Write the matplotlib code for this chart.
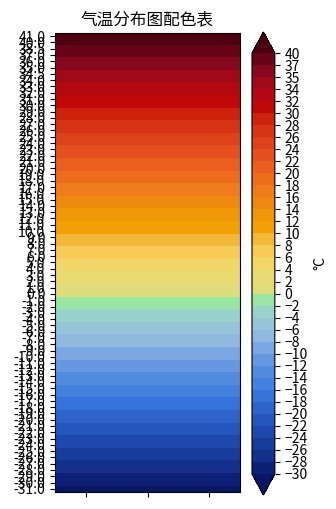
import numpy as np
import matplotlib
matplotlib.use('Agg')
import matplotlib.pyplot as plt
from matplotlib.colors import ListedColormap, BoundaryNorm

plt.rcParams['font.family'] = ['Noto Sans CJK SC', 'DejaVu Sans']
plt.rcParams['axes.unicode_minus'] = True

# 色阶分界
levels = list(range(-30, 33, 2)) + [34, 35, 37, 40]

# 每个区间颜色 (由低到高)
colors = [
    '#0c2078', '#12308c', '#183c9c', '#1e48ac', '#2456bc', '#2c64cc',
    '#3474da', '#4282de', '#528cde', '#6598e0', '#7aa6e2', '#90b8e0',
    '#96c4d8', '#98d2ca', '#98e6a4', '#e0dc7a', '#eada72', '#f2d668',
    '#f7cc56', '#f4b838', '#f2a004', '#f09808', '#ee8a10', '#ee7c18',
    '#ec6c1c', '#ea5e20', '#e6501e', '#de4218', '#d63414', '#cc220e',
    '#c00808', '#b40810', '#a00a18', '#86081c', '#680418',
]
under_color = '#081666'
over_color = '#4c0010'

# 展示用数值 (由上到下)
mids = [(levels[i] + levels[i + 1]) / 2 for i in range(len(levels) - 1)]
values = sorted(set([41.0, -31.0] + [float(v) for v in levels] + mids), reverse=True)

cmap = ListedColormap(colors)
cmap.set_under(under_color)
cmap.set_over(over_color)
norm = BoundaryNorm(levels, cmap.N)

data = np.tile(np.array(values)[:, None], (1, 3))

fig = plt.figure(figsize=(3.36, 5.09), dpi=100)
ax = fig.add_axes([0.1637, 0.0334, 0.5506, 0.9018])
ax.imshow(data, cmap=cmap, norm=norm, aspect='auto', interpolation='nearest')
ax.set_yticks(np.arange(len(values)))
ax.set_yticklabels(['%.1f' % v for v in values], fontsize=10)
ax.set_xticks([0, 1, 2])
ax.set_xticklabels([])
ax.set_title('气温分布图配色表', fontsize=12)

cax = fig.add_axes([0.75, 0.0275, 0.068, 0.9096])
sm = plt.cm.ScalarMappable(cmap=cmap, norm=norm)
cb = fig.colorbar(sm, cax=cax, extend='both', ticks=levels)
cb.ax.tick_params(labelsize=10)
cb.set_label('°C', fontsize=10)

fig.savefig('out.png', dpi=100)
